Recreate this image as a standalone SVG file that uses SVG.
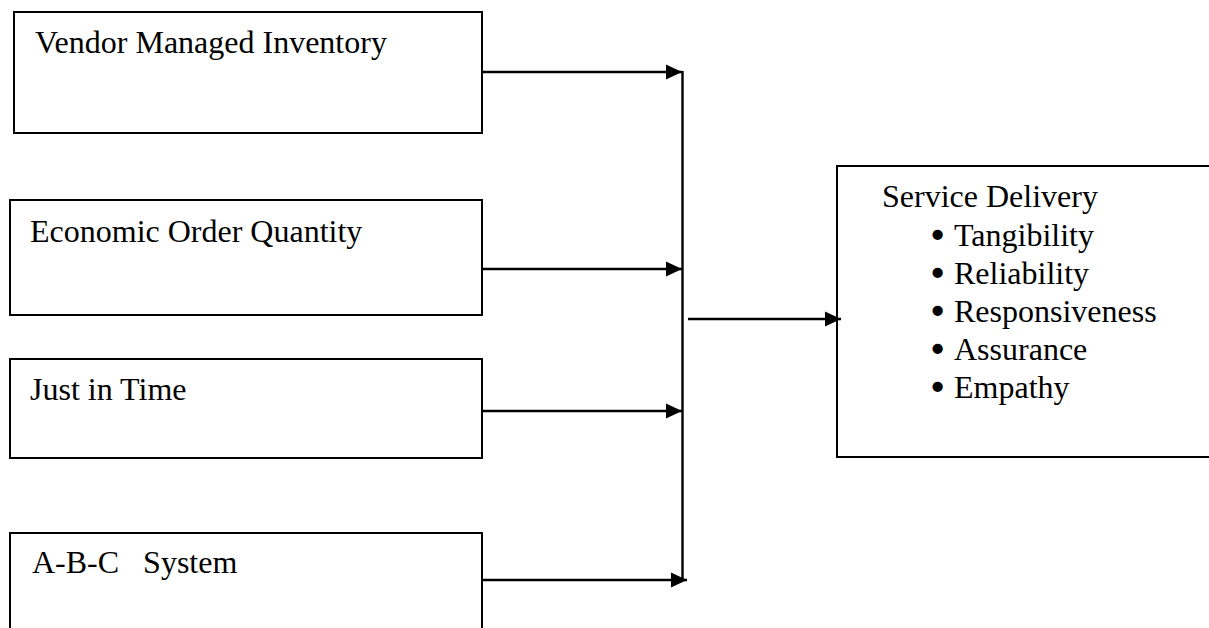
<svg xmlns="http://www.w3.org/2000/svg" width="1209" height="628" viewBox="0 0 1209 628">
<style>
.box{fill:#fff;stroke:#000;stroke-width:2}
.lbl{font-family:"Liberation Serif","Times New Roman",serif;font-size:32px;fill:#000;white-space:pre}
.bul{font-family:"Liberation Serif","Times New Roman",serif;font-size:32px;fill:#000;stroke:#000;stroke-width:2.6;stroke-linejoin:round}
.conn{fill:none;stroke:#000;stroke-width:2.4}
</style>
<defs>
<marker id="ah" markerUnits="userSpaceOnUse" markerWidth="17" markerHeight="17" viewBox="0 0 17 17" refX="16" refY="8.5" orient="auto">
<polygon points="0,1 16,8.5 0,16" fill="#000"/>
</marker>
</defs>
<rect width="1209" height="628" fill="#fff"/>
<g id="vmi">
<rect class="box" x="14" y="12" width="468" height="121"/>
<text class="lbl" x="35" y="53">Vendor Managed Inventory</text>
</g>
<g id="eoq">
<rect class="box" x="10" y="200" width="472" height="115"/>
<text class="lbl" x="30" y="242">Economic Order Quantity</text>
</g>
<g id="jit">
<rect class="box" x="10" y="359" width="472" height="99"/>
<text class="lbl" x="30" y="400">Just in Time</text>
</g>
<g id="abc">
<path class="box" d="M10,640 V533 H482 V640"/>
<text class="lbl" x="32" y="573">A-B-C   System</text>
</g>
<g id="service">
<path class="box" d="M1215,166 H837 V457 H1215"/>
<text class="lbl" x="882" y="207">Service Delivery</text>
<text class="bul" x="932" y="246">•</text><text class="lbl" x="954" y="246">Tangibility</text>
<text class="bul" x="932" y="284">•</text><text class="lbl" x="954" y="284">Reliability</text>
<text class="bul" x="932" y="322">•</text><text class="lbl" x="954" y="322">Responsiveness</text>
<text class="bul" x="932" y="360">•</text><text class="lbl" x="954" y="360">Assurance</text>
<text class="bul" x="932" y="398">•</text><text class="lbl" x="954" y="398">Empathy</text>
</g>
<g id="connectors">
<line class="conn" x1="682.5" y1="71" x2="682.5" y2="580"/>
<line class="conn" x1="482" y1="72" x2="682" y2="72" marker-end="url(#ah)"/>
<line class="conn" x1="482" y1="269" x2="682" y2="269" marker-end="url(#ah)"/>
<line class="conn" x1="482" y1="411" x2="682" y2="411" marker-end="url(#ah)"/>
<line class="conn" x1="482" y1="580" x2="687" y2="580" marker-end="url(#ah)"/>
<line class="conn" x1="688" y1="319" x2="841" y2="319" marker-end="url(#ah)"/>
</g>
</svg>
